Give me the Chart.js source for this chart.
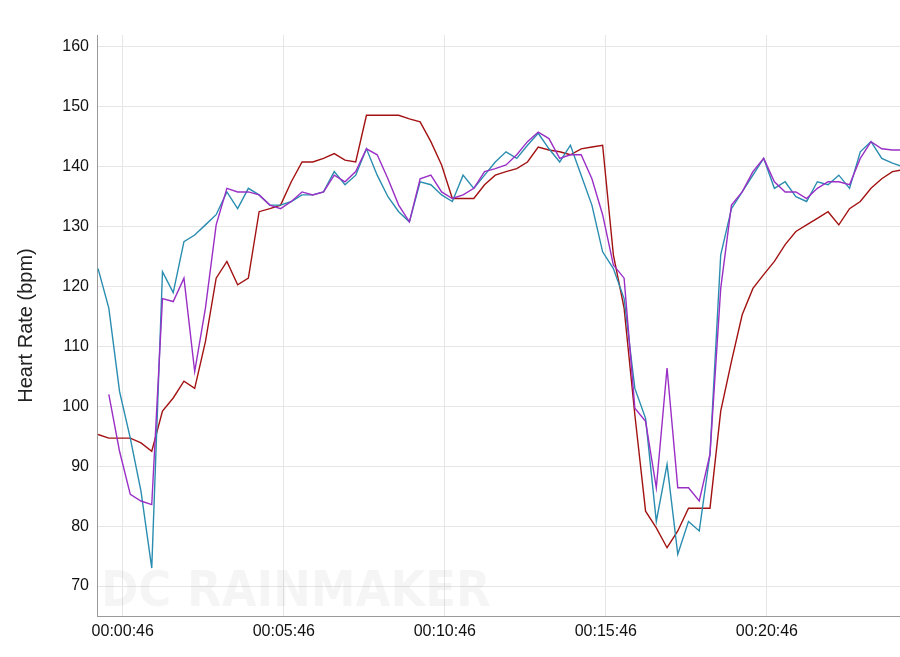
<!DOCTYPE html>
<html>
<head>
<meta charset="utf-8">
<script src="https://cdn.jsdelivr.net/npm/chart.js@4.4.0/dist/chart.umd.min.js"></script>
<style>
  html, body { margin: 0; padding: 0; background: #fff; overflow: hidden; }
  #wrap { width: 900px; height: 657px; }
</style>
</head>
<body>
<div id="wrap"><canvas id="hr"></canvas></div>
<script>
// elapsed seconds, one sample every 20 s
var seconds = [];
for (var s = 0; s <= 1500; s += 20) seconds.push(s);

var xTickSeconds = [46, 346, 646, 946, 1246];
var yTickValues = [70, 80, 90, 100, 110, 120, 130, 140, 150, 160];

var redSeries = [95.3, 94.7, 94.7, 94.7, 93.9, 92.5, 99.2, 101.4, 104.2, 103, 110.8, 121.4, 124.2, 120.3, 121.4,
  132.5, 133, 133.6, 137.5, 140.8, 140.8, 141.4, 142.2, 141.1, 140.8, 148.6, 148.6, 148.6, 148.6, 148, 147.5,
  144.2, 140.3, 134.7, 134.7, 134.7, 137, 138.6, 139.2, 139.7, 140.8, 143.3, 142.8, 142.5, 142, 143, 143.3,
  143.6, 125.3, 116.4, 98.6, 82.5, 79.7, 76.4, 79.2, 83, 83, 83, 99.2, 107.5, 115.3, 119.7, 122, 124.2, 127,
  129.2, 130.3, 131.4, 132.5, 130.3, 133, 134.2, 136.4, 138, 139.2, 139.5];

var tealSeries = [123, 116.4, 102.5, 94.7, 85.8, 73, 122.5, 119, 127.5, 128.6, 130.3, 132, 135.8, 133, 136.4,
  135.3, 133.6, 133.6, 134.2, 135.3, 135.3, 135.8, 139.2, 137, 138.6, 143, 138.6, 135, 132.5, 130.8, 137.5,
  137, 135.3, 134.2, 138.6, 136.4, 138.6, 140.8, 142.5, 141.4, 143.6, 145.6, 143, 140.8, 143.6, 138.6, 133.6,
  125.8, 123, 118, 103, 98, 80.8, 90.3, 75.3, 80.8, 79.2, 92, 125.3, 133, 135.8, 138.6, 141.4, 136.4, 137.5,
  135, 134.2, 137.5, 137, 138.6, 136.4, 142.5, 144.2, 141.4, 140.6, 140];

var purpleSeries = [null, 102, 92.5, 85.3, 84.2, 83.6, 118, 117.5, 121.4, 105.8, 116.4, 130.3, 136.4, 135.8, 135.8,
  135.3, 133.6, 133, 134.2, 135.8, 135.3, 135.8, 138.6, 137.5, 139.2, 143, 142, 138, 133.6, 130.8, 138,
  138.6, 135.8, 134.7, 135.3, 136.4, 139.2, 139.7, 140.3, 142, 144.2, 145.8, 144.7, 141.4, 142, 142, 138,
  132, 123.6, 121.4, 99.7, 97.5, 86.4, 106.4, 86.4, 86.4, 84.2, 92, 119.7, 133.6, 135.8, 139.2, 141.4, 137.5,
  135.8, 135.8, 134.7, 136.4, 137.5, 137.5, 137, 141.4, 144.2, 143, 142.8, 142.8];

function pairs(values) {
  return values.map(function (v, i) { return { x: seconds[i], y: v }; });
}

function hms(sec) {
  var h = Math.floor(sec / 3600), m = Math.floor(sec % 3600 / 60), r = sec % 60;
  var p = function (n) { return (n < 10 ? "0" : "") + n; };
  return p(h) + ":" + p(m) + ":" + p(r);
}

// faint watermark behind the lines
var watermark = {
  id: "watermark",
  beforeDatasetsDraw: function (chart) {
    var ctx = chart.ctx, a = chart.chartArea;
    ctx.save();
    ctx.font = "bold 50px 'DejaVu Sans Condensed'";
    ctx.fillStyle = "rgba(0,0,0,0.04)";
    ctx.textBaseline = "bottom";
    ctx.fillText("DC RAINMAKER", a.left + 4, a.bottom + 2);
    ctx.restore();
  }
};

function line(data, color) {
  return { data: pairs(data), borderColor: color, borderWidth: 1.4, pointRadius: 0, tension: 0, fill: false };
}

new Chart(document.getElementById("hr"), {
  type: "line",
  data: {
    datasets: [
      line(purpleSeries, "#9a2fc6"),
      line(tealSeries, "#2a8db0"),
      line(redSeries, "#a31212")
    ]
  },
  options: {
    responsive: true,
    maintainAspectRatio: false,
    animation: false,
    layout: { padding: { top: 35, left: 0, right: 0, bottom: 0 } },
    plugins: { legend: { display: false }, tooltip: { enabled: false } },
    scales: {
      x: {
        type: "linear",
        min: -2,
        max: 1494,
        afterBuildTicks: function (s) { s.ticks = xTickSeconds.map(function (v) { return { value: v }; }); },
        afterFit: function (s) { s.height = 41; },
        ticks: { callback: function (v) { return hms(v); }, color: "#111", font: { size: 16, family: "'Liberation Sans'" }, maxRotation: 0, padding: 6 },
        grid: { color: "#e6e6e6", drawTicks: false },
        border: { color: "#999" }
      },
      y: {
        min: 65,
        max: 162,
        afterBuildTicks: function (s) { s.ticks = yTickValues.map(function (v) { return { value: v }; }); },
        afterFit: function (s) { s.width = 97; },
        ticks: { color: "#111", font: { size: 16, family: "'Liberation Sans'" }, padding: 8 },
        grid: { color: "#e6e6e6", drawTicks: false },
        border: { color: "#999" },
        title: { display: true, text: "Heart Rate (bpm)", color: "#222", font: { size: 20, family: "'Liberation Sans'" }, padding: { top: 14, bottom: 0 } }
      }
    }
  },
  plugins: [watermark]
});
</script>
</body>
</html>
